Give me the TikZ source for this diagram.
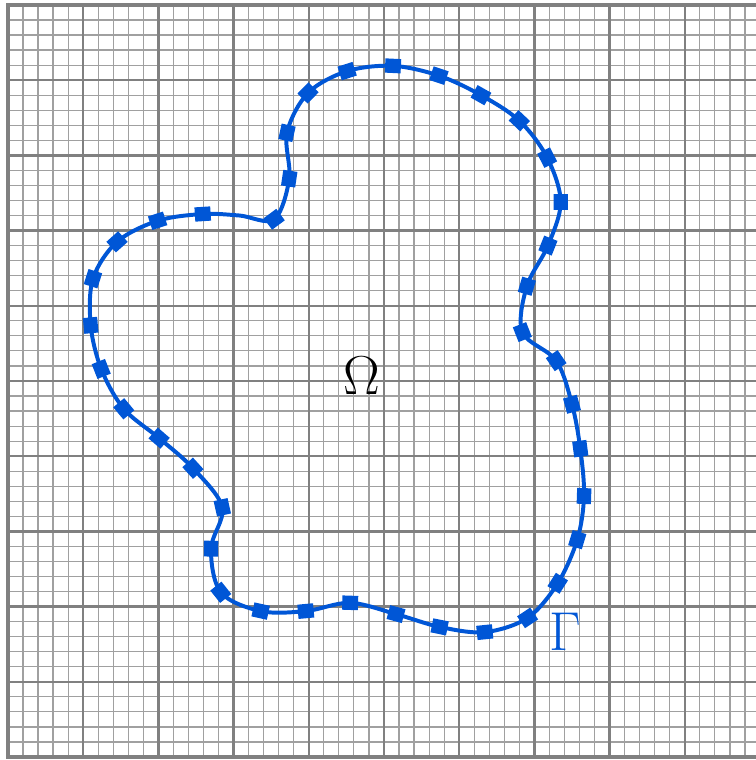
\documentclass[tikz,border=0pt]{standalone}
\usetikzlibrary{calc}
\definecolor{curveblue}{RGB}{0,86,214}
\definecolor{gridmajor}{RGB}{128,128,128}
\definecolor{gridminor}{RGB}{160,160,160}
\begin{document}
\begin{tikzpicture}[
  minorgrid/.style={gridminor, line width=0.45pt},
  majorgrid/.style={gridmajor, line width=0.9pt},
  boundary/.style={curveblue, line width=1.5pt},
  sample/.style={rectangle, fill=curveblue, inner sep=0pt, minimum width=0.21cm, minimum height=0.19cm}
]
\useasboundingbox (-0.106,-0.04) rectangle (9.934,10.066);
\draw[minorgrid, step=0.2] (0,0) grid (10,10);
\draw[majorgrid, step=1] (0,0) grid (10,10);
\draw[gridmajor, line width=1.6pt] (0,0) rectangle (10,10);

\foreach \x/\y [count=\i] in {3.54/7.15, 3.74/7.69, 3.71/8.30, 3.99/8.83, 4.51/9.12,
    5.12/9.19, 5.73/9.06, 6.29/8.80, 6.80/8.46, 7.17/7.97, 7.35/7.38, 7.18/6.80,
    6.90/6.26, 6.84/5.65, 7.29/5.27, 7.50/4.69, 7.61/4.10, 7.66/3.47, 7.57/2.89,
    7.31/2.31, 6.91/1.85, 6.34/1.66, 5.74/1.73, 5.16/1.90, 4.55/2.05, 3.96/1.94,
    3.36/1.94, 2.83/2.19, 2.70/2.77, 2.85/3.32, 2.46/3.84, 2.01/4.24, 1.54/4.63,
    1.24/5.16, 1.10/5.74, 1.13/6.36, 1.45/6.85, 1.99/7.13, 2.59/7.22, 3.08/7.20}
  \coordinate (c\i) at (\x,\y);

\draw[boundary] plot[smooth cycle, tension=0.55, samples at={1,...,40}] (c\x);

% squares turned along the curve
\foreach \i in {1,...,39} {
  \pgfmathtruncatemacro\prev{mod(\i+38,40)+1}
  \pgfmathtruncatemacro\next{mod(\i,40)+1}
  \path let \p1=(c\prev), \p2=(c\next), \n1={atan2(\y2-\y1,\x2-\x1)} in
    node[sample, rotate=\n1] (s\i) at (c\i) {};
}

\node (omega) at (4.71,5.07) {\huge$\Omega$};
\node[text=curveblue] (gamma) at (7.41,1.67) {\huge$\Gamma$};
\end{tikzpicture}
\end{document}
